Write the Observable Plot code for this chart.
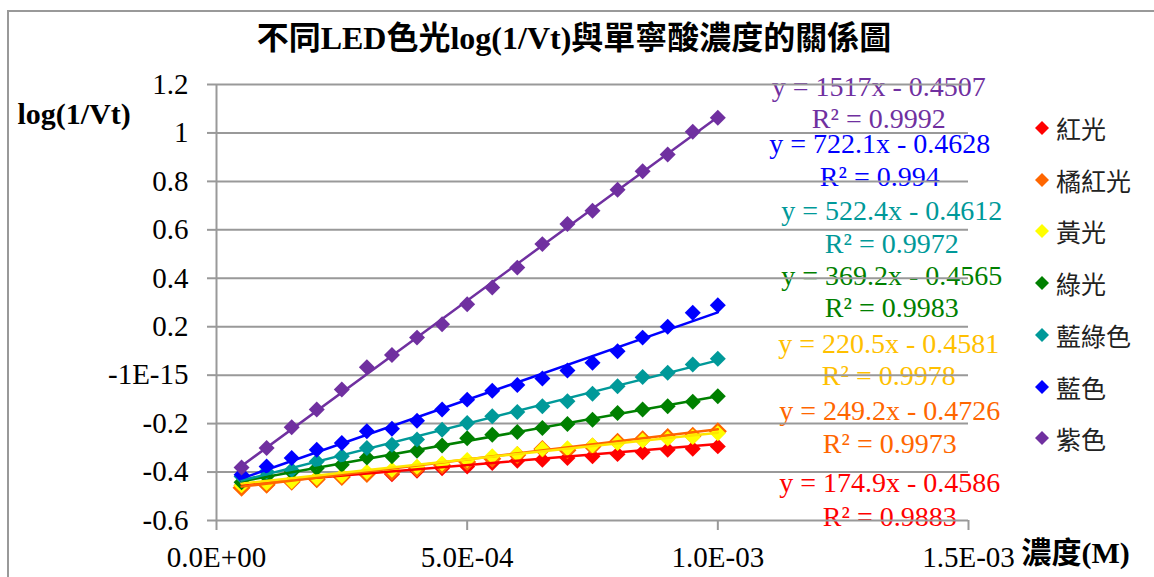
<!DOCTYPE html>
<html>
<head>
<meta charset="utf-8">
<script src="https://cdn.jsdelivr.net/npm/d3@7"></script>
<script src="https://cdn.jsdelivr.net/npm/@observablehq/plot@0.6"></script>
<style>
  html, body { margin: 0; padding: 0; background: #fff; }
  #wrap { position: relative; width: 1154px; height: 577px; overflow: hidden; background: #fff; }
  #border { position: absolute; left: 7px; top: 10px; width: 1160px; height: 600px; border-left: 2px solid #999; border-top: 2px solid #999; box-sizing: border-box; }
  #title { position: relative; height: 60px; width: 1154px; text-align: center; font-family: "Liberation Serif", "Noto Sans CJK TC", serif; font-weight: bold; font-size: 32px; line-height: 60px; padding-top: 8px; box-sizing: border-box; transform: translateX(-3px); color: #000; }
  #legend { position: absolute; left: 1033px; top: 110px; font-family: "Noto Sans CJK TC", sans-serif; font-size: 25px; color: #222; }
  .item { position: absolute; left: 0; height: 36px; white-space: nowrap; display: flex; align-items: center; }
  .item svg { margin-right: 5px; }
</style>
</head>
<body>
<div id="wrap">
  <div id="border"></div>
  <div id="title"></div>
  <div id="chart"></div>
  <div id="legend"></div>
</div>
<script>
// ---- data ----
const conc = [0.00005, 0.0001, 0.00015, 0.0002, 0.00025, 0.0003, 0.00035, 0.0004, 0.00045, 0.0005,
              0.00055, 0.0006, 0.00065, 0.0007, 0.00075, 0.0008, 0.00085, 0.0009, 0.00095, 0.001];
const redVals    = [-0.456,-0.453,-0.439,-0.432,-0.418,-0.404,-0.409,-0.395,-0.384,-0.377,-0.363,-0.353,-0.349,-0.342,-0.335,-0.326,-0.318,-0.308,-0.304,-0.294];
const orangeVals = [-0.465,-0.452,-0.440,-0.430,-0.420,-0.408,-0.400,-0.385,-0.372,-0.358,-0.345,-0.330,-0.305,-0.310,-0.295,-0.275,-0.265,-0.255,-0.250,-0.232];
const yellowVals = [-0.455,-0.445,-0.438,-0.425,-0.415,-0.400,-0.390,-0.378,-0.365,-0.350,-0.335,-0.325,-0.305,-0.302,-0.290,-0.280,-0.270,-0.262,-0.255,-0.240];
const greenVals  = [-0.442,-0.418,-0.400,-0.384,-0.370,-0.340,-0.335,-0.312,-0.290,-0.260,-0.246,-0.235,-0.218,-0.202,-0.184,-0.156,-0.142,-0.128,-0.110,-0.087];
const tealVals   = [-0.418,-0.398,-0.391,-0.356,-0.335,-0.301,-0.287,-0.266,-0.225,-0.197,-0.170,-0.152,-0.128,-0.108,-0.077,-0.046,-0.008,0.010,0.044,0.068];
const blueVals   = [-0.411,-0.377,-0.342,-0.308,-0.280,-0.232,-0.221,-0.188,-0.142,-0.101,-0.064,-0.041,-0.014,0.019,0.051,0.099,0.155,0.200,0.258,0.289];
const purpleVals = [-0.381,-0.301,-0.215,-0.142,-0.059,0.033,0.083,0.155,0.210,0.293,0.362,0.444,0.541,0.624,0.679,0.765,0.842,0.911,1.005,1.063];

const seriesNames = ["紅光", "橘紅光", "黃光", "綠光", "藍綠色", "藍色", "紫色"];
const slopes      = ["174.9", "249.2", "220.5", "369.2", "522.4", "722.1", "1517"];
const intercepts  = ["0.4586", "0.4726", "0.4581", "0.4565", "0.4612", "0.4628", "0.4507"];
const rSquared    = ["0.9883", "0.9973", "0.9978", "0.9983", "0.9972", "0.994", "0.9992"];

const yTicks = [-0.6, -0.4, -0.2, 0, 0.2, 0.4, 0.6, 0.8, 1, 1.2];
const yTickLabels = ["-0.6", "-0.4", "-0.2", "-1E-15", "0.2", "0.4", "0.6", "0.8", "1", "1.2"];
const xTicks = [0, 0.0005, 0.001, 0.0015];
const xTickLabels = ["0.0E+00", "5.0E-04", "1.0E-03", "1.5E-03"];

const titleText = "不同LED色光log(1/Vt)與單寧酸濃度的關係圖";
const yTitle = "log(1/Vt)";
const xTitle = "濃度(M)";

// ---- styles ----
const markerColors = ["#FF0000", "#FF6600", "#FFFF00", "#008000", "#009999", "#0000FF", "#7030A0"];
const lineColors   = ["#FF0000", "#FF6600", "#FFE600", "#008000", "#009999", "#0000FF", "#7030A0"];
const labelColors  = ["#FF0000", "#FF6600", "#FFC000", "#008000", "#009999", "#0000FF", "#7030A0"];
// label anchor positions (data units), order: red, orange, yellow, green, teal, blue, purple
const eqLabelX = [0.001343, 0.001343, 0.001341, 0.001347, 0.001347, 0.001323, 0.001321];
const eqLabelY = [-0.447, -0.149, 0.128, 0.410, 0.679, 0.954, 1.188];
const r2LabelY = [-0.584, -0.286, -0.004, 0.277, 0.542, 0.816, 1.056];

const seriesVals = [redVals, orangeVals, yellowVals, greenVals, tealVals, blueVals, purpleVals];

const points = seriesVals.map((vals, s) => conc.map((x, i) => ({x, y: vals[i], s})));
const trend = slopes.map((m, s) => [conc[0], conc[conc.length - 1]].map(x => ({x, y: +m * x - +intercepts[s], s})));
const eqLabels = slopes.map((m, s) => ({x: eqLabelX[s], y: eqLabelY[s], text: `y = ${m}x - ${intercepts[s]}`, s}));
const r2Labels = rSquared.map((r, s) => ({x: eqLabelX[s], y: r2LabelY[s], text: `R² = ${r}`, s}));

const serif = "Liberation Serif";
const grid = "#999";

const marks = [];
// equation labels (under the gridlines, as in the reference)
for (let s = 0; s < 7; s++) {
  marks.push(Plot.text([eqLabels[s], r2Labels[s]], {x: "x", y: "y", text: "text", fill: labelColors[s], fontSize: 28, fontFamily: serif, textAnchor: "middle"}));
}
marks.push(
  Plot.ruleY(yTicks, {stroke: grid, strokeWidth: 2}),
  Plot.ruleX([0], {stroke: grid, strokeWidth: 2}),
  Plot.axisY({ticks: yTicks, tickFormat: () => "", tickSize: 9, stroke: grid, strokeWidth: 2, label: null}),
  Plot.axisX({ticks: xTicks, tickFormat: () => "", tickSize: 10, stroke: grid, strokeWidth: 2, label: null}),
  Plot.text(yTicks, {y: d => d, text: (d, i) => yTickLabels[i], frameAnchor: "left", dx: -28, textAnchor: "end", lineAnchor: "middle", fontSize: 29, fontFamily: serif, fill: "#000"}),
  Plot.text(xTicks, {x: d => d, text: (d, i) => xTickLabels[i], frameAnchor: "bottom", dy: 37, textAnchor: "middle", lineAnchor: "middle", fontSize: 29, fontFamily: serif, fill: "#000"}),
  Plot.text([yTitle], {frameAnchor: "top-left", dx: -199, dy: 30, textAnchor: "start", lineAnchor: "middle", fontWeight: "bold", fontSize: 30, fontFamily: serif, fill: "#000"}),
  Plot.text([xTitle], {frameAnchor: "bottom-right", dx: 53, dy: 33, textAnchor: "start", lineAnchor: "middle", fontWeight: "bold", fontSize: 30, fontFamily: "Liberation Serif, Noto Sans CJK TC", fill: "#000"})
);
for (let s = 0; s < 7; s++) {
  marks.push(Plot.dot(points[s], {x: "x", y: "y", symbol: "diamond2", r: 7.2, fill: markerColors[s], stroke: s === 1 ? "#FF6600" : "none"}));
}
for (let s = 0; s < 7; s++) {
  marks.push(Plot.line(trend[s], {x: "x", y: "y", stroke: lineColors[s], strokeWidth: 2.5}));
}

const chart = Plot.plot({
  width: 1154,
  height: 517,
  marginLeft: 216,
  marginRight: 186,
  marginTop: 24,
  marginBottom: 57,
  x: {domain: [0, 0.0015]},
  y: {domain: [-0.6, 1.2]},
  style: {fontFamily: serif, fontSize: "28px", background: "transparent", overflow: "visible", color: "#000"},
  marks
});
document.getElementById("chart").appendChild(chart);
document.getElementById("title").textContent = titleText;

// legend
const legend = document.getElementById("legend");
seriesNames.forEach((name, s) => {
  const item = document.createElement("div");
  item.className = "item";
  item.style.top = (s * 51.7) + "px";
  item.innerHTML = `<svg width="18" height="18" viewBox="-9 -9 18 18"><path d="M0,-7L7,0L0,7L-7,0Z" fill="${markerColors[s]}"></path></svg><span></span>`;
  item.querySelector("span").textContent = name;
  legend.appendChild(item);
});
</script>
</body>
</html>
